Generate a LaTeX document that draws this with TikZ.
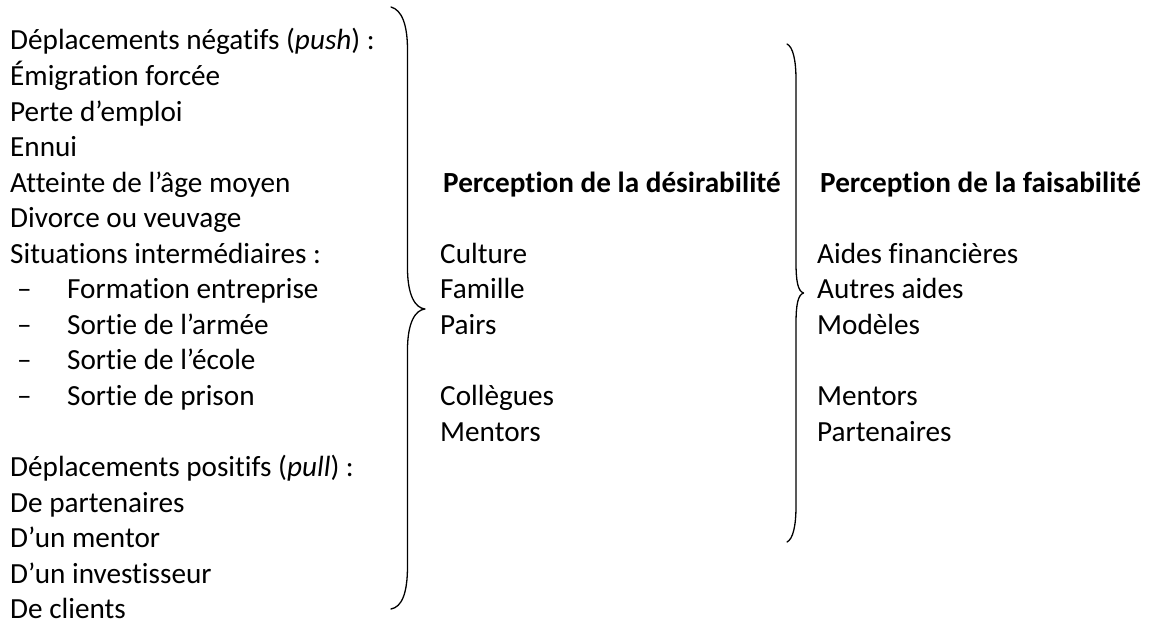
\documentclass[tikz,border=0pt]{standalone}
\usepackage{fontspec}
\setmainfont{Carlito}[RawFeature={-liga}]
\begin{document}
\begin{tikzpicture}[x=1pt,y=-1pt,
  txt/.style={anchor=base west,inner sep=0pt,font=\fontsize{29.2}{35.6}\selectfont},
  ttl/.style={txt,font=\fontsize{29.2}{35.6}\selectfont\bfseries},
  brace/.style={draw=black,line width=1.3pt,line cap=round,line join=round}]
\useasboundingbox (0,0) rectangle (1149,626);
% left column
\node[txt] (l1) at (10,50) {Déplacements négatifs (\textit{push}) :};
\node[txt] (l2) at (10,85.55) {Émigration forcée};
\node[txt] (l3) at (10,121.1) {Perte d’emploi};
\node[txt] (l4) at (10,156.65) {Ennui};
\node[txt] (l5) at (10,192.2) {Atteinte de l’âge moyen};
\node[txt] (l6) at (10,227.75) {Divorce ou veuvage};
\node[txt] (l7) at (10,263.3) {Situations intermédiaires :};
\node[txt] (d8) at (17,298.85) {–};
\node[txt] (l8) at (67,298.85) {Formation entreprise};
\node[txt] (d9) at (17,334.4) {–};
\node[txt] (l9) at (67,334.4) {Sortie de l’armée};
\node[txt] (d10) at (17,369.95) {–};
\node[txt] (l10) at (67,369.95) {Sortie de l’école};
\node[txt] (d11) at (17,405.5) {–};
\node[txt] (l11) at (67,405.5) {Sortie de prison};
\node[txt] (l13) at (10,476.6) {Déplacements positifs (\textit{pull}) :};
\node[txt] (l14) at (10,512.15) {De partenaires};
\node[txt] (l15) at (10,547.7) {D’un mentor};
\node[txt] (l16) at (10,583.25) {D’un investisseur};
\node[txt] (l17) at (10,618.8) {De clients};
% middle column
\node[ttl] (mt) at (443,192.2) {Perception de la désirabilité};
\node[txt] (m1) at (440,263.3) {Culture};
\node[txt] (m2) at (440,298.85) {Famille};
\node[txt] (m3) at (440,334.4) {Pairs};
\node[txt] (m4) at (440,405.5) {Collègues};
\node[txt] (m5) at (440,441.05) {Mentors};
% right column
\node[ttl] (rt) at (820,192.2) {Perception de la faisabilité};
\node[txt] (r1) at (817,263.3) {Aides financières};
\node[txt] (r2) at (817,298.85) {Autres aides};
\node[txt] (r3) at (817,334.4) {Modèles};
\node[txt] (r4) at (817,405.5) {Mentors};
\node[txt] (r5) at (817,441.05) {Partenaires};
% brace 1
\draw[brace] (391,7) .. controls (402,10) and (407.5,25) .. (407.5,50)
  -- (407.5,268) .. controls (407.5,295) and (415,308) .. (425,309)
  .. controls (415,310) and (407.5,323) .. (407.5,350)
  -- (407.5,566) .. controls (407.5,593) and (402,607) .. (391,609);
% brace 2
\draw[brace] (787,44) .. controls (793,47) and (796,60) .. (796,80)
  -- (796,262) .. controls (796,282) and (798,291) .. (803.5,293)
  .. controls (798,295) and (796,304) .. (796,324)
  -- (796,506) .. controls (796,526) and (793,539) .. (787,542);
\end{tikzpicture}
\end{document}
